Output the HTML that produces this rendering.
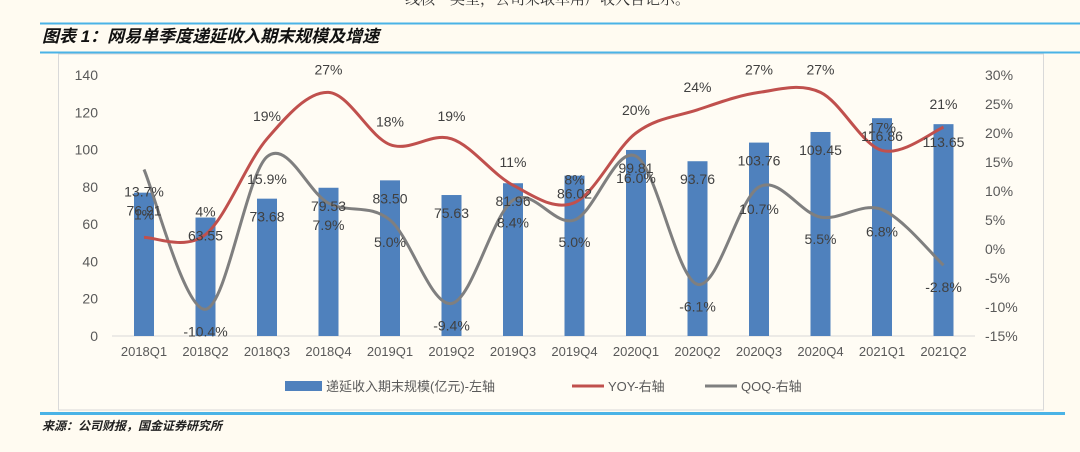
<!DOCTYPE html>
<html><head><meta charset="utf-8"><style>
body{margin:0;background:#fffbf1;width:1080px;height:447px;overflow:hidden;font-family:"Liberation Sans","Noto Sans CJK SC",sans-serif}
</style></head><body>
<svg width="1080" height="447" xmlns="http://www.w3.org/2000/svg" id="s" font-family="Liberation Sans, Noto Sans CJK SC, sans-serif">
<text x="405" y="4" font-size="15" fill="#333" font-family="Noto Serif CJK SC, serif">线核”类型，公司采取单用户收入合记示。</text>
<line x1="40" y1="23.5" x2="1080" y2="23.5" stroke="#4ab3e6" stroke-width="2"/>
<text x="42" y="42" font-size="17" font-weight="bold" font-style="italic" fill="#111">图表 1：网易单季度递延收入期末规模及增速</text>
<line x1="40" y1="52.5" x2="1080" y2="52.5" stroke="#4ab3e6" stroke-width="2"/>
<rect x="58.5" y="54" width="985" height="356" fill="#fffcf4" stroke="#d9d9d9"/>
<line x1="40" y1="413.5" x2="1065" y2="413.5" stroke="#4ab3e6" stroke-width="3"/>
<text x="42" y="430" font-size="12" font-weight="bold" font-style="italic" fill="#222">来源：公司财报，国金证券研究所</text>
<g id="g"></g>
</svg>
<script>
var X=[],i;for(i=0;i<14;i++)X.push(144+61.5*i);
var B=[76.91,63.55,73.68,79.53,83.50,75.63,81.96,86.02,99.81,93.76,103.76,109.45,116.86,113.65];
var Y=[2,2.5,19,27,18,19,11,8,20,24,27,27,17,21];
var Q=[13.7,-10.4,15.9,7.9,5.0,-9.4,8.4,5.0,16.0,-6.1,10.7,5.5,6.8,-2.8];
var Yl=["1%","4%","19%","27%","18%","19%","11%","8%","20%","24%","27%","27%","17%","21%"];
var Ql=["13.7%","-10.4%","15.9%","7.9%","5.0%","-9.4%","8.4%","5.0%","16.0%","-6.1%","10.7%","5.5%","6.8%","-2.8%"];
var cats=["2018Q1","2018Q2","2018Q3","2018Q4","2019Q1","2019Q2","2019Q3","2019Q4","2020Q1","2020Q2","2020Q3","2020Q4","2021Q1","2021Q2"];
function ly(v){return 336-v*1.864}function ry(v){return 249-v*5.8}
var h="";
for(i=0;i<=7;i++)h+='<text x="98" y="'+(ly(i*20)+5)+'" font-size="14" fill="#595959" text-anchor="end">'+(i*20)+'</text>';
for(i=0;i<10;i++){var v=30-5*i;h+='<text x="985" y="'+(ry(v)+5)+'" font-size="14" fill="#595959">'+v+'%</text>';}
h+='<line x1="112" y1="336" x2="975" y2="336" stroke="#d9d9d9"/>';
for(i=0;i<14;i++){h+='<rect x="'+(X[i]-10)+'" y="'+ly(B[i])+'" width="20" height="'+(336-ly(B[i]))+'" fill="#4f81bd"/>';
h+='<text x="'+X[i]+'" y="'+(356)+'" font-size="13" fill="#595959" text-anchor="middle">'+cats[i]+'</text>';}
function path(P){var d="M"+P[0][0]+","+P[0][1];for(var k=0;k<P.length-1;k++){var p0=P[k-1]||P[k],p1=P[k],p2=P[k+1],p3=P[k+2]||P[k+1];var t=6;
d+=" C"+(p1[0]+(p2[0]-p0[0])/t)+","+(p1[1]+(p2[1]-p0[1])/t)+" "+(p2[0]-(p3[0]-p1[0])/t)+","+(p2[1]-(p3[1]-p1[1])/t)+" "+p2[0]+","+p2[1];}return d;}
var PY=[],PQ=[];for(i=0;i<14;i++){PY.push([X[i],ry(Y[i])]);PQ.push([X[i],ry(Q[i])]);}
h+='<path d="'+path(PQ)+'" fill="none" stroke="#7f7f7f" stroke-width="3"/>';
h+='<path d="'+path(PY)+'" fill="none" stroke="#c0504d" stroke-width="3"/>';
for(i=0;i<14;i++){
h+='<text x="'+X[i]+'" y="'+(ly(B[i])+23)+'" font-size="14" fill="#404040" text-anchor="middle">'+B[i].toFixed(2)+'</text>';
h+='<text x="'+X[i]+'" y="'+(ry(Y[i])-18)+'" font-size="14" fill="#404040" text-anchor="middle">'+Yl[i]+'</text>';
h+='<text x="'+X[i]+'" y="'+(ry(Q[i])+27)+'" font-size="14" fill="#404040" text-anchor="middle">'+Ql[i]+'</text>';}
h+='<rect x="285" y="381" width="37" height="10" fill="#4f81bd"/><text x="326" y="391" font-size="13" fill="#595959">递延收入期末规模(亿元)-左轴</text>';
h+='<line x1="572" y1="386" x2="604" y2="386" stroke="#c0504d" stroke-width="3"/><text x="608" y="391" font-size="13" fill="#595959">YOY-右轴</text>';
h+='<line x1="705" y1="386" x2="737" y2="386" stroke="#7f7f7f" stroke-width="3"/><text x="741" y="391" font-size="13" fill="#595959">QOQ-右轴</text>';
document.getElementById("g").innerHTML=h;
</script>
</body></html>
